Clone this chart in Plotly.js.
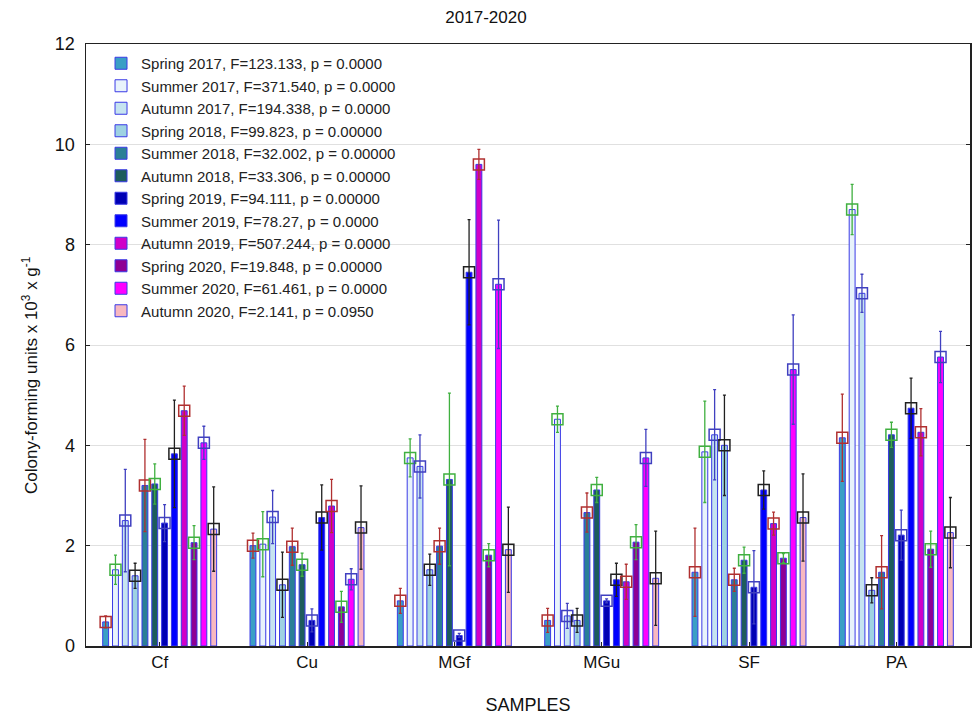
<!DOCTYPE html>
<html>
<head>
<meta charset="utf-8">
<script src="https://cdn.plot.ly/plotly-3.0.1.min.js"></script>
<style>html,body{margin:0;padding:0;background:#fff;}#chart{width:972px;height:715px;}</style>
</head>
<body>
<div id="chart"></div>
<script>
// Categories
var samples = ['Cf', 'Cu', 'MGf', 'MGu', 'SF', 'PA'];

// Series names (legend labels)
var seriesNames = [
  'Spring 2017, F=123.133, p = 0.0000',
  'Summer 2017, F=371.540, p = 0.0000',
  'Autumn 2017, F=194.338, p = 0.0000',
  'Spring 2018, F=99.823, p = 0.00000',
  'Summer 2018, F=32.002, p = 0.00000',
  'Autumn 2018, F=33.306, p = 0.00000',
  'Spring 2019, F=94.111, p = 0.00000',
  'Summer 2019, F=78.27, p = 0.0000',
  'Autumn 2019, F=507.244, p = 0.0000',
  'Spring 2020, F=19.848, p = 0.00000',
  'Summer 2020, F=61.461, p = 0.0000',
  'Autumn 2020, F=2.141, p = 0.0950'
];

// Means per series, ordered Cf, Cu, MGf, MGu, SF, PA
var spring2017 = [0.48, 2.00, 0.90, 0.51, 1.47, 4.15];
var summer2017 = [1.52, 2.03, 3.75, 4.52, 3.87, 8.70];
var autumn2017 = [2.50, 2.57, 3.58, 0.60, 4.21, 7.03];
var spring2018 = [1.40, 1.22, 1.52, 0.51, 4.00, 1.11];
var summer2018 = [3.20, 1.98, 1.99, 2.66, 1.32, 1.47];
var autumn2018 = [3.23, 1.62, 3.32, 3.11, 1.71, 4.21];
var spring2019 = [2.45, 0.51, 0.21, 0.90, 1.17, 2.21];
var summer2019 = [3.83, 2.56, 7.45, 1.32, 3.11, 4.74];
var autumn2019 = [4.69, 2.79, 9.60, 1.28, 2.44, 4.26];
var spring2020 = [2.06, 0.78, 1.81, 2.07, 1.75, 1.93];
var summer2020 = [4.05, 1.33, 7.21, 3.75, 5.51, 5.76];
var autumn2020 = [2.33, 2.36, 1.92, 1.35, 2.56, 2.26];

// Error bar half-lengths
var errSpring2017 = [0.12, 0.25, 0.25, 0.24, 0.88, 0.87];
var errSummer2017 = [0.29, 0.65, 0.38, 0.26, 1.01, 0.50];
var errAutumn2017 = [1.02, 0.53, 0.63, 0.25, 0.90, 0.38];
var errSpring2018 = [0.25, 0.65, 0.31, 0.24, 1.00, 0.25];
var errSummer2018 = [0.92, 0.37, 0.36, 0.39, 0.23, 0.73];
var errAutumn2018 = [0.40, 0.23, 1.72, 0.25, 0.26, 0.25];
var errSpring2019 = [0.37, 0.23, 0.04, 0.04, 0.73, 0.50];
var errSummer2019 = [1.07, 0.65, 1.05, 0.33, 0.38, 0.60];
var errAutumn2019 = [0.49, 0.53, 0.30, 0.35, 0.23, 0.47];
var errSpring2020 = [0.34, 0.31, 0.23, 0.35, 0.09, 0.36];
var errSummer2020 = [0.33, 0.21, 1.28, 0.57, 1.09, 0.51];
var errAutumn2020 = [0.84, 0.83, 0.85, 0.94, 0.87, 0.70];

var values = [spring2017, summer2017, autumn2017, spring2018, summer2018, autumn2018,
              spring2019, summer2019, autumn2019, spring2020, summer2020, autumn2020];
var errors = [errSpring2017, errSummer2017, errAutumn2017, errSpring2018, errSummer2018, errAutumn2018,
              errSpring2019, errSummer2019, errAutumn2019, errSpring2020, errSummer2020, errAutumn2020];

var barColors = ['#3a9fc5', '#e8f3fb', '#c6e4f0', '#9ed2e2', '#2b7f96', '#1d5c5c',
                 '#0000b4', '#0000ff', '#d000c8', '#8e0094', '#ff00ff', '#f8b8c0'];
var markColors = ['#b03030', '#40b040', '#4040c0', '#202020'];

var FONT = 'Liberation Sans, Arial, sans-serif';
var traces = [];
for (var i = 0; i < values.length; i++) {
  var mc = markColors[i % 4];
  traces.push({
    type: 'bar', x: samples, y: values[i], name: seriesNames[i],
    marker: {color: barColors[i], line: {color: '#3a3ae6', width: 1}},
    error_y: {type: 'data', array: errors[i], visible: true, color: mc, thickness: 1.3, width: 1.5},
    hoverinfo: 'y'
  });
}
for (var j = 0; j < values.length; j++) {
  traces.push({
    type: 'scatter', mode: 'markers', x: samples, y: values[j], showlegend: false,
    marker: {symbol: 'square-open', size: 11, color: markColors[j % 4], line: {width: 1.5}},
    hoverinfo: 'skip'
  });
}

var layout = {
  width: 972, height: 715,
  margin: {l: 86, r: 2, t: 44, b: 69},
  paper_bgcolor: '#fff', plot_bgcolor: '#fff',
  font: {family: FONT, color: '#111', size: 16},
  title: {text: '2017-2020', x: 0.5, xref: 'container', xanchor: 'center', y: 0.976, yanchor: 'middle',
          font: {size: 17, family: FONT, color: '#111'}},
  barmode: 'group', bargap: 0.2, bargroupgap: 0.4,
  scattermode: 'group', scattergap: 0.2,
  showlegend: true,
  legend: {x: 0.017, y: 0.995, xanchor: 'left', yanchor: 'top', bgcolor: 'rgba(0,0,0,0)',
           font: {size: 15, family: FONT, color: '#222'}, tracegroupgap: 0},
  annotations: [{
    text: 'Colony-forming units x 10<sup>3</sup> x g<sup>-1</sup>', textangle: -90,
    xref: 'paper', yref: 'paper', x: -0.0635, y: 0.45, xanchor: 'center', yanchor: 'middle',
    showarrow: false, font: {size: 17, family: FONT, color: '#111'}
  }],
  xaxis: {
    type: 'category', showline: true, linecolor: '#222', linewidth: 1.5, mirror: true,
    ticks: 'inside', ticklen: 4, tickcolor: '#222', showgrid: false,
    tickfont: {size: 17, family: FONT, color: '#111'},
    title: {text: 'SAMPLES', font: {size: 18, family: FONT, color: '#111'}, standoff: 28}
  },
  yaxis: {
    range: [0, 12], dtick: 2, showline: true, linecolor: '#222', linewidth: 1.5, mirror: 'ticks',
    ticks: 'inside', ticklen: 4, tickcolor: '#222', showgrid: true, gridcolor: '#e0e0e0', gridwidth: 1,
    zeroline: false, ticklabelstandoff: 6,
    tickfont: {size: 18, family: FONT, color: '#111'}
  }
};

Plotly.newPlot('chart', traces, layout, {displayModeBar: false, staticPlot: true});
</script>
</body>
</html>
